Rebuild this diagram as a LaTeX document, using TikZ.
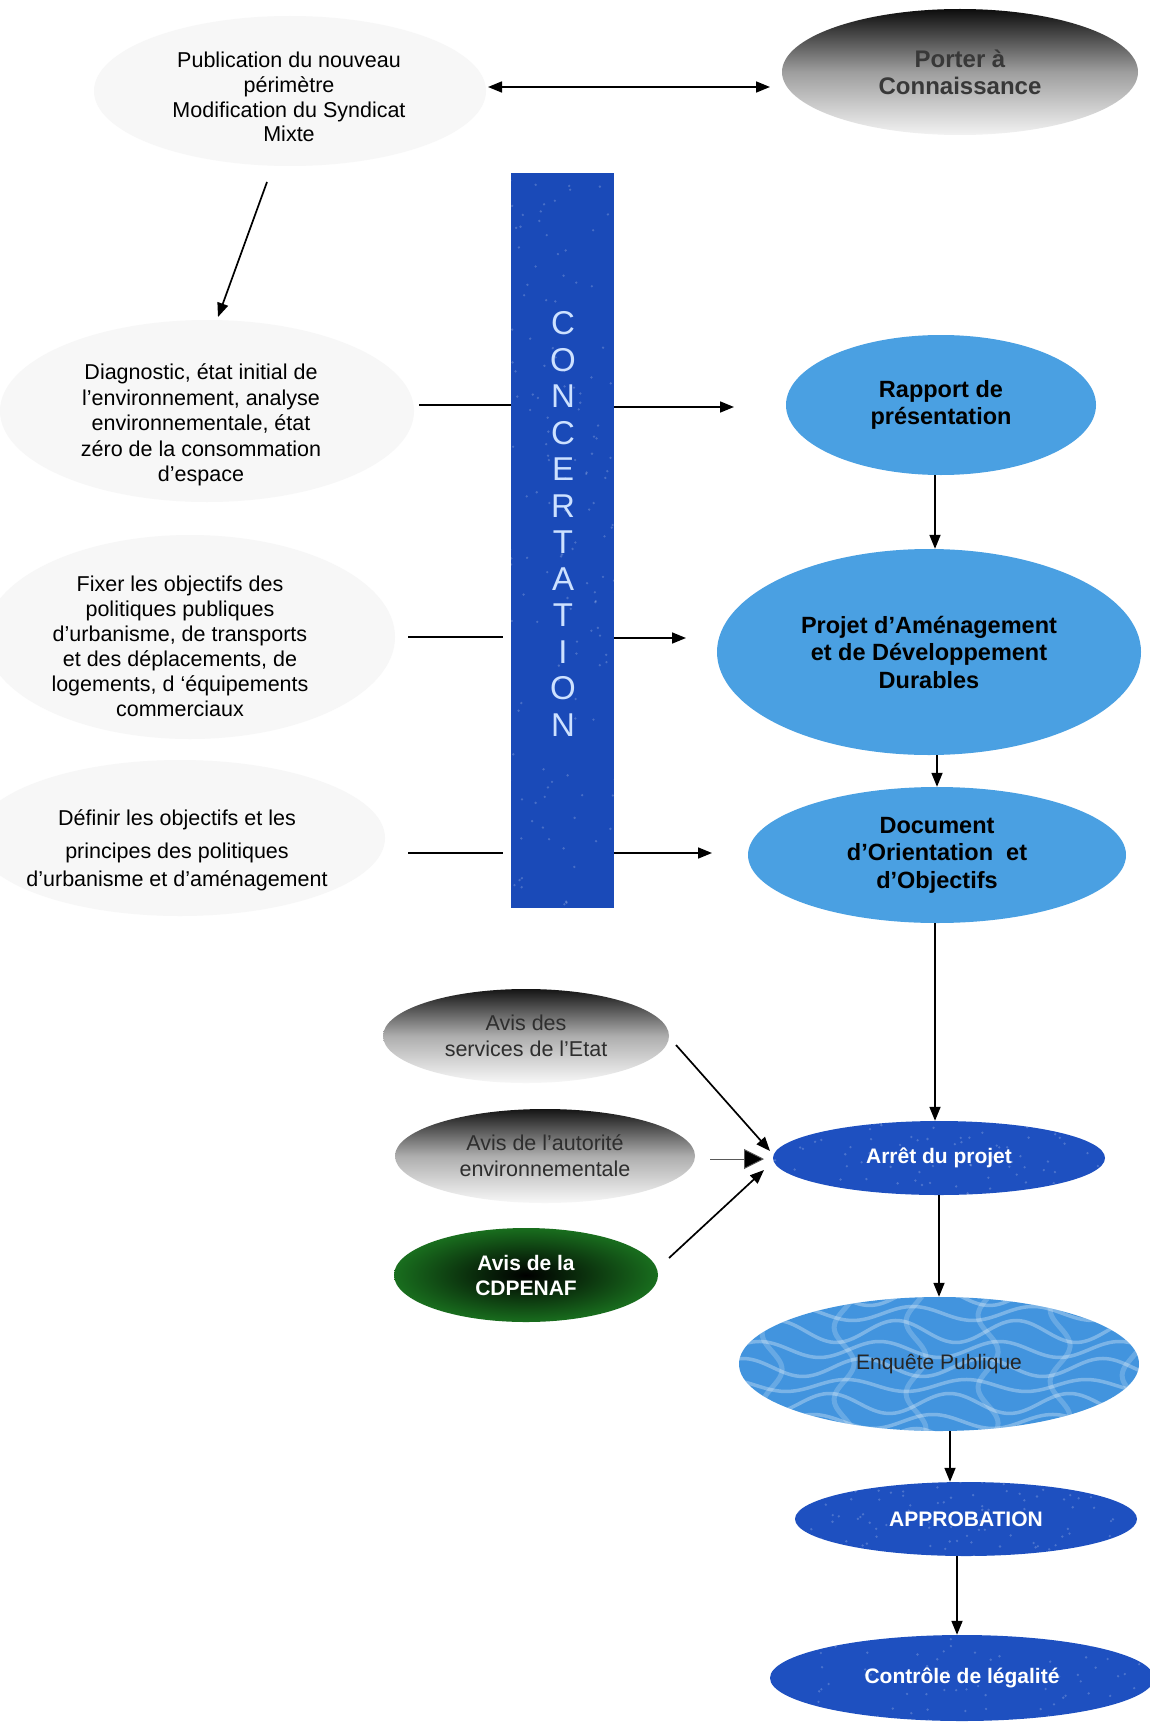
\documentclass[tikz,border=0pt]{standalone}
\usepackage{fontspec}
\setmainfont{Liberation Sans}
\usetikzlibrary{arrows.meta,shapes.geometric,calc}

\definecolor{lblue}{RGB}{74,160,226}
\definecolor{eblue}{RGB}{66,148,222}
\definecolor{dblue}{RGB}{30,80,192}
\definecolor{barblue}{RGB}{26,74,184}
\definecolor{letterblue}{RGB}{205,225,255}
\definecolor{faint}{RGB}{247,247,247}
\definecolor{cdgreen}{RGB}{25,110,30}

\begin{document}
\pgfmathsetseed{11}
\begin{tikzpicture}[x=1pt,y=-1pt,
  txt/.style={font=\fontsize{21.5}{25}\selectfont, align=center, inner sep=0pt},
  el/.style={ellipse, inner sep=0pt, align=center},
  lb/.style={el, fill=lblue, font=\bfseries\fontsize{23.5}{27.5}\selectfont},
  speck/.style n args={3}{path picture={
      \foreach \i in {1,...,#1}
        \fill[white, opacity=.2] ({(rnd-0.5)*2*#2},{(rnd-0.5)*2*#3}) circle (1.3pt);}},
  db/.style={el, fill=dblue, text=white, font=\bfseries\fontsize{21}{24}\selectfont},
  gr/.style={el, top color=black!92, bottom color=black!3, middle color=black!32, text=black!82, font=\fontsize{21.5}{26}\selectfont},
  arr/.style={line width=1.7pt, -{Triangle[length=14pt,width=11pt]}},
  ln/.style={line width=1.7pt}]

\useasboundingbox (0,0) rectangle (1150,1731);
\fill[white] (0,0) rectangle (1150,1731);

% faint background ellipses on the left
\fill[faint] (290,91) ellipse [x radius=196, y radius=75];
\fill[faint] (207,411) ellipse [x radius=207, y radius=91];
\fill[faint] (190,637) ellipse [x radius=205, y radius=102];
\fill[faint] (180,838) ellipse [x radius=205, y radius=78];

% left texts
\node[txt, font=\fontsize{21.5}{24.7}\selectfont] (pub) at (289,97)
  {Publication du nouveau\\périmètre\\Modification du Syndicat\\Mixte};
\node[txt, font=\fontsize{21.5}{25.5}\selectfont] (diag) at (201,425)
  {Diagnostic, état initial de\\l’environnement, analyse\\environnementale, état\\zéro de la consommation\\d’espace};
\node[txt, font=\fontsize{21.5}{25}\selectfont] (fix) at (180,646)
  {Fixer les objectifs des\\politiques publiques\\d’urbanisme, de transports\\et des déplacements, de\\logements, d ‘équipements\\commerciaux};
\node[txt, font=\fontsize{21.5}{27.5}\selectfont] (def) at (177,850)
  {Définir les objectifs et les\\[6pt]principes des politiques\\d’urbanisme et d’aménagement};

% Porter a connaissance
\node[el, minimum width=356, minimum height=126, top color=black!95, bottom color=black!5, middle color=black!38,
  text=black!78, font=\bfseries\fontsize{24}{27}\selectfont] (pac) at (960,72) {Porter à\\Connaissance};

% concertation bar
\node[fill=barblue, minimum width=103, minimum height=735, inner sep=0pt, speck={500}{103}{735}] (bar) at (562.5,540.5) {};
\node[font=\fontsize{33}{36.5}\selectfont, text=letterblue, align=center, inner sep=0pt] (conc) at (563,524)
  {C\\O\\N\\C\\E\\R\\T\\A\\T\\I\\O\\N};

% right column
\node[lb, minimum width=310, minimum height=140] (rap) at (941,405) {Rapport de\\présentation};
\node[lb, minimum width=424, minimum height=206] (proj) at (929,652) {Projet d’Aménagement\\et de Développement\\Durables};
\node[lb, minimum width=378, minimum height=136] (doc) at (937,855) {Document\\d’Orientation\ \ et\\d’Objectifs};
\node[db, minimum width=332, minimum height=74, speck={300}{332}{74}] (arret) at (939,1158) {Arrêt du projet};
\node[el, fill=eblue, minimum width=400, minimum height=134, font=\fontsize{21}{24}\selectfont, text=black!85,
  path picture={
    \foreach \k/\a in {0/6,1/10,2/7,3/11,4/8,5/9,6/6,7/10,8/7,9/11,10/8}
      \draw[white, opacity=.3, line width=3.5pt]
        plot[domain=-340:440, samples=110, smooth] (\x, {-92+\k*18+\a*sin(3*\x+50*\k)});
    \foreach \k in {0,...,10}
      \draw[white, opacity=.2, line width=5pt]
        plot[domain=-95:95, samples=35, smooth] ({-300+\k*72+10*sin(5*\x+30*\k)}, \x);
  }] (enq) at (939,1364) {Enquête Publique};
\node[db, minimum width=342, minimum height=74, speck={300}{342}{74}] (appr) at (966,1519) {APPROBATION};
\node[db, minimum width=384, minimum height=86, speck={360}{384}{86}] (ctrl) at (962,1678) {Contrôle de légalité};

% avis
\node[gr, minimum width=286, minimum height=94] (svc) at (526,1036) {Avis des\\services de l’Etat};
\node[gr, minimum width=300, minimum height=94] (aut) at (545,1156) {Avis de l’autorité\\environnementale};
\node[el, minimum width=264, minimum height=94, shading=radial, inner color=black, outer color=cdgreen,
  text=white, font=\bfseries\fontsize{21}{25}\selectfont] (cdp) at (526,1275) {Avis de la\\CDPENAF};

% coordinates for free connector ends
\coordinate (pubE) at (488,87);
\coordinate (pacW) at (770,87);
\coordinate (pubS) at (267,182);
\coordinate (diagN) at (218,317);
\coordinate (dgL) at (419,405);
\coordinate (fxL) at (408,637);
\coordinate (fxR) at (503,637);
\coordinate (dfL) at (408,853);
\coordinate (dfR) at (503,853);
\coordinate (rpA) at (734,407);
\coordinate (pjA) at (686,638);
\coordinate (dcA) at (712,853);
\coordinate (svS) at (676,1045);
\coordinate (svT) at (770,1151);
\coordinate (auS) at (710,1159);
\coordinate (auT) at (764,1159);
\coordinate (cdS) at (669,1258);
\coordinate (cdT) at (764,1170);

% connectors
\draw[line width=1.7pt, {Triangle[length=14pt,width=11pt]}-{Triangle[length=14pt,width=11pt]}] (pubE) -- (pacW);
\draw[arr] (pubS) -- (diagN);

\draw[ln] (dgL) -- (dgL -| bar.west);
\draw[ln] (fxL) -- (fxR);
\draw[ln] (dfL) -- (dfR);
\draw[arr] (bar.east |- rpA) -- (rpA);
\draw[arr] (bar.east |- pjA) -- (pjA);
\draw[arr] (bar.east |- dcA) -- (dcA);

\draw[arr] ([xshift=-6pt]rap.south) -- ([xshift=6pt]proj.north);
\draw[arr] ([xshift=8pt]proj.south) -- (doc.north);
\draw[arr] ([xshift=-2pt]doc.south) -- ([xshift=-4pt]arret.north);
\draw[arr] (arret.south) -- (enq.north);
\draw[arr] ([xshift=11pt]enq.south) -- ([xshift=-16pt]appr.north);
\draw[arr] ([xshift=-9pt]appr.south) -- ([xshift=-5pt]ctrl.north);

\draw[arr] (svS) -- (svT);
\draw[line width=0.9pt, black!65, -{Triangle[length=20pt,width=20pt,fill=black]}] (auS) -- (auT);
\draw[arr] (cdS) -- (cdT);
\end{tikzpicture}
\end{document}
